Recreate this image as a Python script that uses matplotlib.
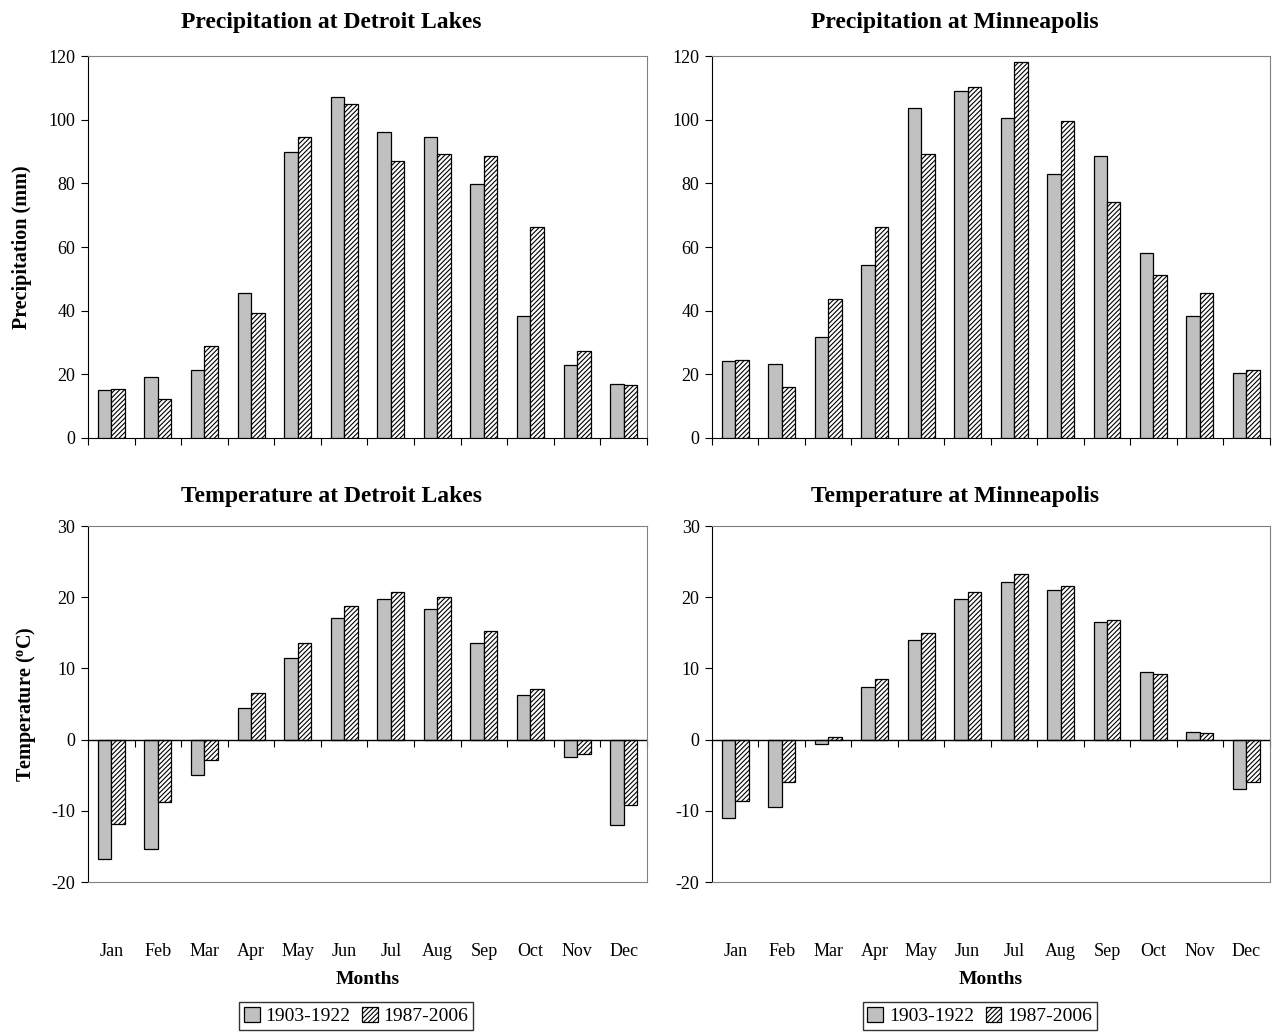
import matplotlib
matplotlib.use('Agg')
import matplotlib.pyplot as plt
import numpy as np

plt.rcParams['font.family'] = ['Liberation Serif', 'DejaVu Serif']
plt.rcParams['mathtext.fontset'] = 'custom'
plt.rcParams['mathtext.rm'] = 'Liberation Serif'
plt.rcParams['mathtext.bf'] = 'Liberation Serif:bold'
plt.rcParams['hatch.linewidth'] = 0.8
plt.rcParams['axes.unicode_minus'] = False

months = ['Jan', 'Feb', 'Mar', 'Apr', 'May', 'Jun', 'Jul', 'Aug', 'Sep', 'Oct', 'Nov', 'Dec']
periods = ['1903-1922', '1987-2006']

# precipitation (mm)
dl_prec_old = [15.0, 19.3, 21.3, 45.7, 89.8, 107.2, 96.3, 94.5, 79.8, 38.4, 22.9, 17.0]
dl_prec_new = [15.5, 12.3, 29.0, 39.2, 94.5, 105.0, 87.0, 89.3, 88.7, 66.2, 27.2, 16.6]
mp_prec_old = [24.1, 23.2, 31.8, 54.3, 103.8, 108.9, 100.7, 82.9, 88.7, 58.1, 38.4, 20.5]
mp_prec_new = [24.4, 15.9, 43.8, 66.2, 89.1, 110.4, 118.1, 99.5, 74.1, 51.2, 45.7, 21.3]

# temperature (C)
dl_temp_old = [-16.8, -15.4, -4.9, 4.5, 11.5, 17.1, 19.7, 18.4, 13.6, 6.3, -2.4, -12.0]
dl_temp_new = [-11.8, -8.7, -2.8, 6.6, 13.6, 18.7, 20.8, 20.0, 15.2, 7.1, -2.0, -9.2]
mp_temp_old = [-11.0, -9.5, -0.65, 7.45, 14.0, 19.7, 22.2, 21.0, 16.45, 9.5, 1.1, -6.95]
mp_temp_new = [-8.6, -6.0, 0.35, 8.5, 15.0, 20.8, 23.25, 21.6, 16.8, 9.2, 0.95, -6.0]

GRAY = '#c0c0c0'
FRAME = '#808080'
W = 0.29
x = np.arange(len(months))
bounds = np.arange(-0.5, len(months), 1.0)

fig = plt.figure(figsize=(12.79, 10.32), dpi=100)


def bars(ax, old, new):
    ax.bar(x - W / 2, old, W, color=GRAY, edgecolor='black', linewidth=0.9, label=periods[0], zorder=3)
    ax.bar(x + W / 2, new, W, color='white', edgecolor='black', hatch='///////', linewidth=0.9,
           label=periods[1], zorder=3)
    ax.set_xlim(-0.5, len(months) - 0.5)
    for s in ['top', 'right']:
        ax.spines[s].set_color(FRAME)
    ax.spines['left'].set_color('black')
    ax.tick_params(axis='y', direction='out', length=5, labelsize=13, pad=4)


def prec_panel(rect, old, new, title, ylabel=None):
    ax = fig.add_axes(rect)
    bars(ax, old, new)
    ax.set_ylim(0, 120)
    ax.set_yticks(range(0, 121, 20))
    ax.set_xticks(bounds)
    ax.set_xticklabels([])
    ax.tick_params(axis='x', direction='out', length=5)
    ax.set_title(title, fontsize=17, fontweight='bold', pad=20, x=0.436)
    if ylabel:
        ax.set_ylabel(ylabel, fontsize=14.5, fontweight='bold', labelpad=12)
    return ax


def temp_panel(rect, old, new, title, ylabel=None):
    ax = fig.add_axes(rect)
    bars(ax, old, new)
    ax.set_ylim(-20, 30)
    ax.set_yticks(range(-20, 31, 10))
    ax.spines['bottom'].set_color(FRAME)
    ax.set_xticks(x)
    ax.set_xticklabels(months, fontsize=13)
    ax.tick_params(axis='x', length=0, pad=44)
    ax.axhline(0, color='black', linewidth=1.0, zorder=4)
    sec = ax.secondary_xaxis(20 / 50)
    sec.set_xticks(bounds)
    sec.set_xticklabels([])
    sec.tick_params(direction='out', length=5)
    sec.spines['bottom'].set_visible(False)
    ax.set_title(title, fontsize=17, fontweight='bold', pad=17, x=0.436)
    ax.set_xlabel('Months', fontsize=14, fontweight='bold', labelpad=8)
    if ylabel:
        ax.set_ylabel(ylabel, fontsize=14.5, fontweight='bold', labelpad=10)
    ax.legend(loc='upper center', bbox_to_anchor=(0.48, -0.31), ncol=2, fontsize=14,
              frameon=True, fancybox=False, edgecolor='black', handlelength=0.8,
              handleheight=0.8, handletextpad=0.3, columnspacing=0.6, borderpad=0.25)
    return ax


prec_panel([0.0688, 0.5756, 0.437, 0.370], dl_prec_old, dl_prec_new,
           'Precipitation at Detroit Lakes', 'Precipitation (mm)')
prec_panel([0.5567, 0.5756, 0.436, 0.370], mp_prec_old, mp_prec_new,
           'Precipitation at Minneapolis')
temp_panel([0.0688, 0.1453, 0.437, 0.345], dl_temp_old, dl_temp_new,
           'Temperature at Detroit Lakes', 'Temperature ($\\mathbf{^{o}}$C)')
temp_panel([0.5567, 0.1453, 0.436, 0.345], mp_temp_old, mp_temp_new,
           'Temperature at Minneapolis')

fig.savefig('out.png', dpi=100)
